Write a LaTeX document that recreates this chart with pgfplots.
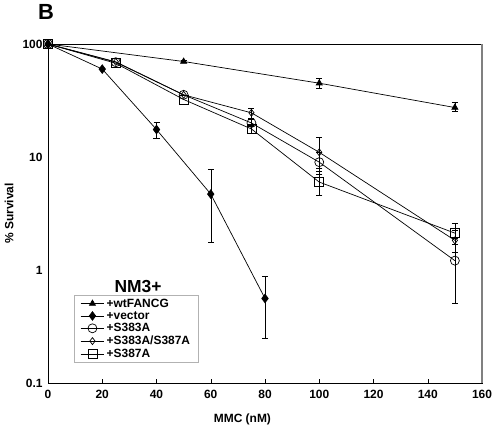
\documentclass[border=0pt]{standalone}
\usepackage{fontspec}
\setmainfont{Liberation Sans}
\usepackage{pgfplots}
\pgfplotsset{compat=1.18}
\begin{document}
\begin{tikzpicture}
\path[use as bounding box] (-48bp,-43bp) rectangle (447bp,383bp);
\node[font=\bfseries\fontsize{22}{22}\selectfont] at (-2bp,371bp) {B};
\begin{axis}[
 at={(0,0)}, anchor=south west, scale only axis, width=434bp, height=339bp,
 xmin=0, xmax=160, ymode=log, ymin=0.1, ymax=100,
 xtick={0,20,...,160}, ytick={0.1,1,10,100}, yticklabels={0.1,1,10,100},
 minor ytick={}, 
 /pgf/number format/assume math mode=true,
 tick label style={font=\bfseries\fontsize{12}{14}\selectfont},
 xticklabel style={yshift=-4bp},
 yticklabel style={xshift=-2bp},
 major tick length=4bp,
 xtick style={black},
 ytick style={draw=none},
 tick align=inside,
 xtick pos=bottom,
 xlabel={MMC (nM)}, ylabel={\% Survival},
 every axis x label/.style={at={(axis description cs:0.448,-0.1062)}, anchor=center, font=\bfseries\fontsize{12}{14}\selectfont},
 every axis y label/.style={at={(axis description cs:-0.0899,0.5)}, rotate=90, anchor=center, font=\bfseries\fontsize{12}{14}\selectfont},
 clip=false,
 axis line style={black, line width=0.8bp},
 every axis plot/.append style={black, line width=0.7bp},
 legend style={at={(axis description cs:0.0599,0.2596)}, anchor=north west,
   draw=gray!60, font=\bfseries\fontsize{12}{12}\selectfont, inner xsep=6bp, inner ysep=1.5bp,
   row sep=-1.2bp, cells={anchor=west}},
 legend image code/.code={\draw[mark repeat=2,mark phase=2] plot coordinates {(0cm,0cm) (0.42cm,0cm) (0.84cm,0cm)};},
 error bars/error mark options={rotate=90, mark size=3bp, line width=0.7bp},
]
\addplot[mark=triangle*, mark size=3.5bp, mark options={solid,fill=black}, error bars/.cd, y dir=both, y explicit]
 coordinates {(0,100) (50,70) +=(0,1) -=(0,1) (100,45) +=(0,4.5) -=(0,4.5) (150,27.4) +=(0,3.2) -=(0,2.2)};
\addlegendentry{+wtFANCG}
\addplot[mark=diamond*, mark size=4.3bp, mark options={solid,fill=black}, error bars/.cd, y dir=both, y explicit]
 coordinates {(0,100) (20,60) (40,17.5) +=(0,2.8) -=(0,3) (60,4.7) +=(0,3) -=(0,2.95) (80,0.56) +=(0,0.31) -=(0,0.31)};
\addlegendentry{+vector}
\addplot[mark=o, mark size=4.5bp, error bars/.cd, y dir=both, y explicit]
 coordinates {(0,100) (25,69) (50,35.5) (75,20) +=(0,1.5) -=(0,1.5) (100,9) +=(0,2) -=(0,2) (150,1.21) +=(0,0.7) -=(0,0.7)};
\addlegendentry{+S383A}
\addplot[mark=diamond, mark size=3.5bp, error bars/.cd, y dir=both, y explicit]
 coordinates {(0,100) (25,69.5) (50,35.5) (75,24.6) +=(0,2.4) -=(0,2.4) (100,11) +=(0,4) -=(0,3) (150,1.83) +=(0,0.4) -=(0,0.4)};
\addlegendentry{+S383A/S387A}
\addplot[mark=square, mark size=4.5bp, error bars/.cd, y dir=both, y explicit]
 coordinates {(0,100) (25,67.5) (50,32.3) (75,17.7) +=(0,1.5) -=(0,1.5) (100,6) +=(0,1.4) -=(0,1.4) (150,2.12) +=(0,0.45) -=(0,0.45)};
\addlegendentry{+S387A}
\draw[gray, line width=1.2bp] (rel axis cs:1,0) -- (rel axis cs:1,1);
\node[font=\bfseries\fontsize{17.5}{17.5}\selectfont] at (axis description cs:0.2074,0.286) {NM3+};
\end{axis}
\end{tikzpicture}
\end{document}
